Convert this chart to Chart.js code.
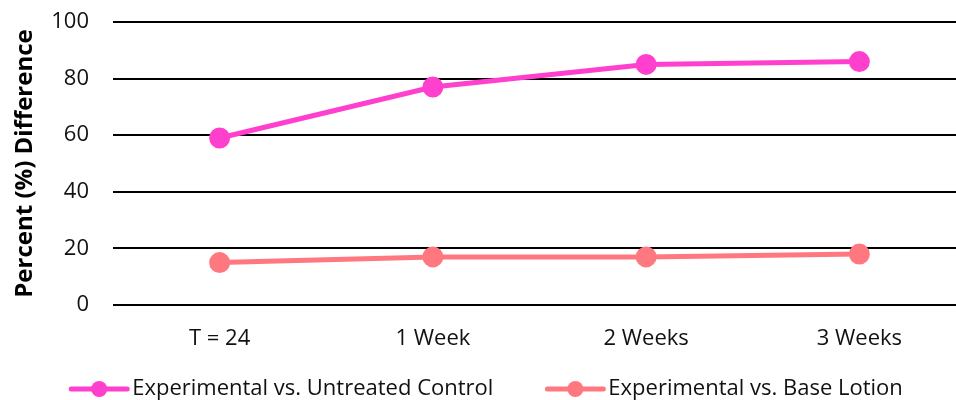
<!DOCTYPE html>
<html lang="en">
<head>
<meta charset="UTF-8">
<title>Percent (%) Difference</title>
<script src="https://cdn.jsdelivr.net/npm/chart.js"></script>
<style>
  html, body { margin: 0; padding: 0; background: #fff; overflow: hidden; }
  /* the plot runs a little past the right edge, as in the original */
  #clip { width: 956px; height: 400px; overflow: hidden; }
  #wrap { width: 966px; height: 400px; }
</style>
</head>
<body>
<div id="clip"><div id="wrap"><canvas id="chart"></canvas></div></div>
<script>
  const timepoints = ["T = 24", "1 Week", "2 Weeks", "3 Weeks"];
  const vsUntreated = [59, 77, 85, 86];
  const vsBaseLotion = [15, 17, 17, 18];
  const seriesNames = ["Experimental vs. Untreated Control", "Experimental vs. Base Lotion"];
  const yMin = 0, yMax = 100, yStep = 20;

  const pink = "#FF3FCE";
  const coral = "#FF7880";
  const fontFamily = '"Open Sans", sans-serif';

  // legend drawn as line + dot like the original
  const lineLegend = {
    id: "lineLegend",
    afterDraw(chart) {
      const ctx = chart.ctx;
      const sets = chart.data.datasets;
      const markW = 60, textGap = 3, itemGap = 52;
      const y = chart.height - 11;
      ctx.save();
      ctx.font = "22px " + fontFamily;
      ctx.textBaseline = "middle";
      const widths = sets.map(d => markW + textGap + ctx.measureText(d.label).width);
      const total = widths.reduce((a, b) => a + b, 0) + itemGap * (sets.length - 1);
      let x = chart.width / 2 + 3 - total / 2;
      sets.forEach((d, i) => {
        ctx.strokeStyle = d.borderColor;
        ctx.lineWidth = 5;
        ctx.lineCap = "round";
        ctx.beginPath();
        ctx.moveTo(x + 2, y);
        ctx.lineTo(x + markW - 2, y);
        ctx.stroke();
        ctx.fillStyle = d.borderColor;
        ctx.beginPath();
        ctx.arc(x + markW / 2, y, 8, 0, Math.PI * 2);
        ctx.fill();
        ctx.fillStyle = "#111";
        ctx.fillText(d.label, x + markW + textGap, y);
        x += widths[i] + itemGap;
      });
      ctx.restore();
    }
  };

  new Chart(document.getElementById("chart"), {
    type: "line",
    data: {
      labels: timepoints,
      datasets: [
        {
          label: seriesNames[0],
          data: vsUntreated,
          borderColor: pink,
          backgroundColor: pink,
          borderWidth: 5,
          pointRadius: 8,
          pointHoverRadius: 8,
          tension: 0
        },
        {
          label: seriesNames[1],
          data: vsBaseLotion,
          borderColor: coral,
          backgroundColor: coral,
          borderWidth: 5,
          pointRadius: 8,
          pointHoverRadius: 8,
          tension: 0
        }
      ]
    },
    options: {
      responsive: true,
      maintainAspectRatio: false,
      animation: false,
      layout: { autoPadding: false, padding: { top: 22, bottom: 40, left: 0, right: 0 } },
      plugins: {
        legend: { display: false },
        tooltip: { enabled: false }
      },
      scales: {
        x: {
          offset: true,
          grid: { display: false },
          border: { display: false },
          ticks: { color: "#111", font: { family: fontFamily, size: 22 }, padding: 13 },
          afterFit: s => { s.height = 55; s.paddingLeft = 0; s.paddingRight = 0; }
        },
        y: {
          min: yMin,
          max: yMax,
          border: { display: false },
          grid: { color: "#000", lineWidth: 2, drawTicks: false },
          ticks: { stepSize: yStep, color: "#111", font: { family: fontFamily, size: 22 }, padding: 24 },
          title: {
            display: true,
            text: "Percent (%) Difference",
            color: "#000",
            font: { family: fontFamily, size: 24, weight: "bold" },
            padding: { top: 11, bottom: 0 }
          },
          afterFit: s => { s.width = 113; s.paddingTop = 0; s.paddingBottom = 0; }
        }
      }
    },
    plugins: [lineLegend]
  });
</script>
</body>
</html>
